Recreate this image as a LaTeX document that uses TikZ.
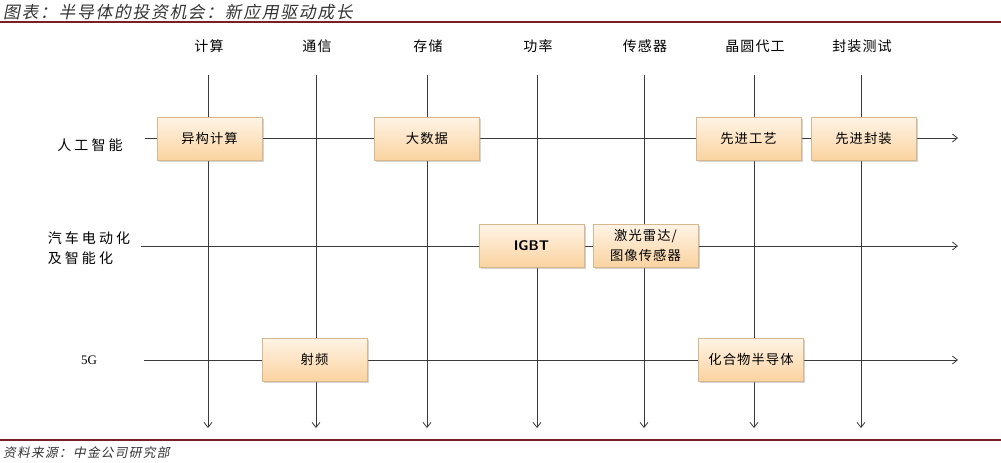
\documentclass[tikz,border=0pt]{standalone}
\usepackage{fontspec}
\setmainfont{Liberation Serif}
\newfontfamily\cjk[LetterSpace=8]{Noto Sans CJK SC}
\newfontfamily\cjkw[LetterSpace=22]{Noto Sans CJK SC}
\newfontfamily\cjkit[FakeSlant=0.2,LetterSpace=10]{Noto Sans CJK SC}
\usetikzlibrary{arrows.meta,shadows}
\definecolor{titlered}{HTML}{7A1F24}
\definecolor{boxtop}{HTML}{FFF4E6}
\definecolor{boxbot}{HTML}{FAD3A0}
\definecolor{boxdraw}{HTML}{D9B78C}
\definecolor{gridline}{HTML}{3A3A3A}
\tikzset{
  box/.style={draw=boxdraw, top color=boxtop, bottom color=boxbot,
    minimum width=105pt, minimum height=43pt, inner sep=1pt,
    font=\cjk\fontsize{13.3}{15}\selectfont, align=center,
    drop shadow={shadow xshift=1.5pt, shadow yshift=-1.5pt, opacity=0.35, fill=gray}},
  hdr/.style={font=\cjk\fontsize{14}{16}\selectfont, inner sep=0pt},
  rowlab/.style={font=\cjkw\fontsize{14}{20}\selectfont, inner sep=0pt, align=left},
  flow/.style={draw=gridline, line width=0.8pt, -{Straight Barb[length=5pt,width=8pt]}},
  rule/.style={draw=titlered, line width=1.6pt}
}
\begin{document}
\begin{tikzpicture}[x=1pt,y=-1pt]
\useasboundingbox (0,0) rectangle (1001,463);
% title and rules
\node[anchor=west, inner sep=0pt, font=\cjkit\fontsize{16.8}{18}\selectfont, text=black!80] (title) at (3,12) {图表：半导体的投资机会：新应用驱动成长};
\coordinate (r1a) at (0,22); \coordinate (r1b) at (1001,22);
\draw[rule] (r1a) -- (r1b);
\coordinate (r2a) at (0,440); \coordinate (r2b) at (1001,440);
\draw[rule] (r2a) -- (r2b);
\node[anchor=west, inner sep=0pt, font=\cjkit\fontsize{12.7}{14}\selectfont, text=black!80] (src) at (3,453) {资料来源：中金公司研究部};
% column headers
\foreach \x/\t/\n in {208/计算/c1, 316/通信/c2, 427/存储/c3, 537/功率/c4, 644/传感器/c5, 754/晶圆代工/c6, 861/封装测试/c7}{
  \node[hdr] (\n) at (\x+1,46) {\t};
  \coordinate (\n top) at (\x,75);
  \coordinate (\n bot) at (\x,428);
}
% row labels
\node[rowlab] (l1) at (90,145) {人工智能};
\node[rowlab] (l2) at (89,248) {汽车电动化\\及智能化};
\node[font=\fontsize{13}{15}\selectfont, inner sep=0pt] (l3) at (89,360) {5G};
\coordinate (a1) at (145,138); \coordinate (b1) at (958,138);
\coordinate (a2) at (141,246); \coordinate (b2) at (958,246);
\coordinate (a3) at (144,360); \coordinate (b3) at (958,360);
% lines
\foreach \n in {c1,c2,c3,c4,c5,c6,c7}{ \draw[flow] (\n top) -- (\n bot); }
\draw[flow] (a1) -- (b1);
\draw[flow] (a2) -- (b2);
\draw[flow] (a3) -- (b3);
% boxes
\node[box] (yg) at (209.5,138.5) {异构计算};
\node[box] (dsj) at (427,138.5) {大数据};
\node[box] (xjgy) at (748.5,138.5) {先进工艺};
\node[box] (xjfz) at (863.5,138.5) {先进封装};
\node[box, font=\fontsize{14}{16}\selectfont\bfseries\sffamily] (igbt) at (531.5,245.5) {IGBT};
\node[box, font=\cjk\fontsize{13.3}{20}\selectfont] (jg) at (645.5,245.5) {激光雷达/\\图像传感器};
\node[box] (sp) at (314.5,359.5) {射频};
\node[box] (hhw) at (751,359.5) {化合物半导体};
\end{tikzpicture}
\end{document}
